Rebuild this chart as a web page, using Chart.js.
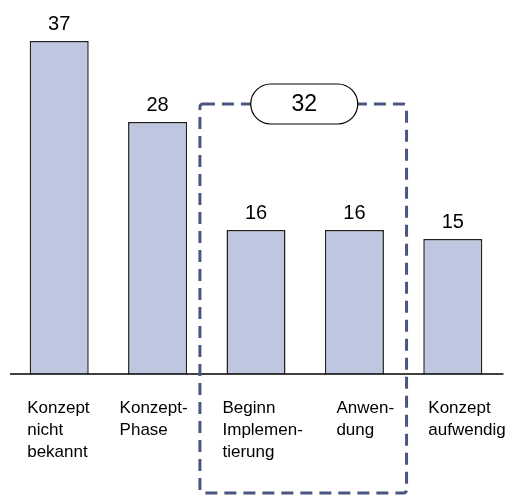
<!DOCTYPE html>
<html>
<head>
<meta charset="utf-8">
<script src="https://cdn.jsdelivr.net/npm/chart.js@4/dist/chart.umd.min.js"></script>
<style>
  html, body { margin: 0; padding: 0; background: #fff; }
  #wrap { width: 515px; height: 495px; }
</style>
</head>
<body>
<div id="wrap"><canvas id="chart" width="515" height="495"></canvas></div>
<script>
// categories (line breaks as in the original)
const categories = [
  ["Konzept", "nicht", "bekannt"],
  ["Konzept-", "Phase"],
  ["Beginn", "Implemen-", "tierung"],
  ["Anwen-", "dung"],
  ["Konzept", "aufwendig"]
];
const values = [37, 28, 16, 16, 15];
// bars that the dashed box groups together
const groupIdx = [2, 3];

const FONT = "'Liberation Sans', Arial, Helvetica, sans-serif";

// draws value labels, category labels, baseline and the dashed group box
const decorations = {
  id: "decorations",
  afterDatasetsDraw(chart, args, opts) {
    const ctx = chart.ctx;
    const x = chart.scales.x;
    const y = chart.scales.y;
    const meta = chart.getDatasetMeta(0);
    const zero = y.getPixelForValue(0);

    ctx.save();

    // baseline
    ctx.strokeStyle = "#000";
    ctx.lineWidth = 1.5;
    ctx.beginPath();
    ctx.moveTo(chart.chartArea.left, zero);
    ctx.lineTo(chart.chartArea.right + 1.5, zero);
    ctx.stroke();

    // value labels on top of bars
    ctx.fillStyle = "#000";
    ctx.font = "20px " + FONT;
    ctx.textAlign = "center";
    ctx.textBaseline = "alphabetic";
    meta.data.forEach((bar, i) => {
      ctx.fillText(String(values[i]), bar.x, bar.y - 11);
    });

    // category labels, left aligned blocks
    ctx.font = "17px " + FONT;
    ctx.textAlign = "left";
    categories.forEach((lines, i) => {
      const left = x.getPixelForValue(i) + opts.labelShift[i];
      lines.forEach((line, j) => {
        ctx.fillText(line, left, zero + 39 + j * 22);
      });
    });

    // dashed group box
    const bx1 = x.getPixelForValue(groupIdx[0] - 0.57);
    const bx2 = x.getPixelForValue(groupIdx[groupIdx.length - 1] + 0.53);
    const by1 = y.getPixelForValue(30);
    const by2 = chart.height - 2;
    ctx.strokeStyle = "#4b5680";
    ctx.lineWidth = 3;
    ctx.setLineDash([12, 7]);
    ctx.beginPath();
    ctx.roundRect(bx1, by1, bx2 - bx1, by2 - by1, 3);
    ctx.stroke();
    ctx.setLineDash([]);

    // pill with the group sum
    const sum = groupIdx.reduce((s, i) => s + values[i], 0);
    const pw = 107, ph = 40;
    const cx = (bx1 + bx2) / 2 + 1;
    const cy = by1;
    ctx.fillStyle = "#fff";
    ctx.strokeStyle = "#000";
    ctx.lineWidth = 1.2;
    ctx.beginPath();
    ctx.roundRect(cx - pw / 2, cy - ph / 2, pw, ph, ph / 2);
    ctx.fill();
    ctx.stroke();
    ctx.fillStyle = "#000";
    ctx.font = "23px " + FONT;
    ctx.textAlign = "center";
    ctx.textBaseline = "middle";
    ctx.fillText(String(sum), cx, cy + 1);

    ctx.restore();
  }
};

new Chart(document.getElementById("chart"), {
  type: "bar",
  data: {
    labels: categories,
    datasets: [{
      data: values,
      backgroundColor: "#bfc7e0",
      borderColor: "#222",
      borderWidth: 1.5,
      borderSkipped: "bottom",
      categoryPercentage: 1,
      barPercentage: 0.6
    }]
  },
  options: {
    responsive: false,
    animation: false,
    layout: { padding: { left: 10, right: 13, top: 5, bottom: 121 } },
    scales: {
      x: { display: false },
      y: { display: false, min: 0, max: 41 }
    },
    plugins: {
      legend: { display: false },
      tooltip: { enabled: false },
      decorations: { labelShift: [-32, -38, -33.5, -18, -24.5] }
    }
  },
  plugins: [decorations]
});
</script>
</body>
</html>
